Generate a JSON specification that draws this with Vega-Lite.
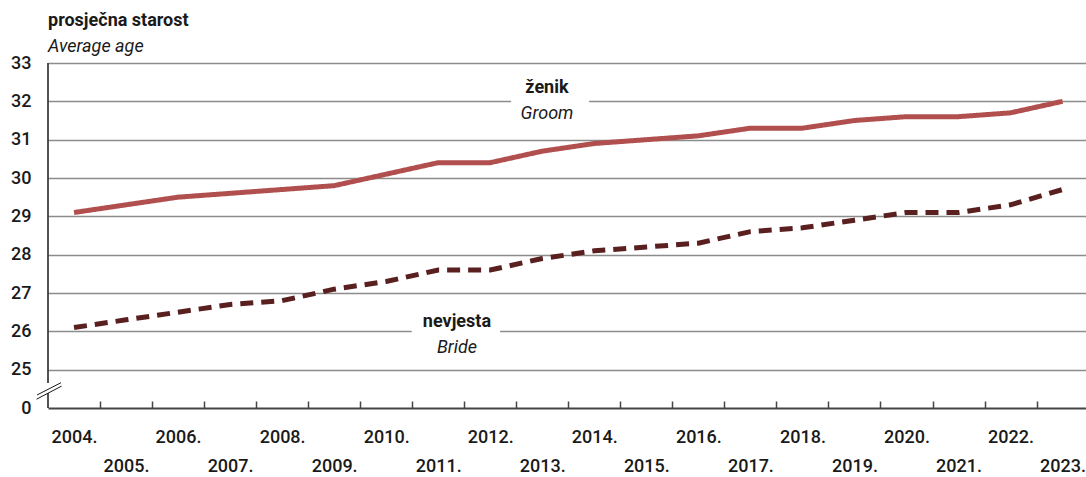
{
  "$schema": "https://vega.github.io/schema/vega-lite/v6.json",
  "width": 1038,
  "height": 345,
  "autosize": "none",
  "padding": {"left": 48, "top": 63, "right": 0, "bottom": 69},
  "background": "white",
  "config": {"view": {"stroke": null}, "font": "Roboto"},
  "title": {
    "text": "prosječna starost",
    "subtitle": "Average age",
    "anchor": "start",
    "frame": "group",
    "offset": -2,
    "font": "Roboto",
    "fontSize": 18,
    "fontWeight": "bold",
    "color": "#1a1a1a",
    "subtitleFont": "Roboto",
    "subtitleFontSize": 18,
    "subtitleFontStyle": "italic",
    "subtitleColor": "#1a1a1a",
    "subtitlePadding": 8
  },
  "data": {
    "values": [
      {"year": 2004, "series": "ženik", "age": 29.1},
      {"year": 2005, "series": "ženik", "age": 29.3},
      {"year": 2006, "series": "ženik", "age": 29.5},
      {"year": 2007, "series": "ženik", "age": 29.6},
      {"year": 2008, "series": "ženik", "age": 29.7},
      {"year": 2009, "series": "ženik", "age": 29.8},
      {"year": 2010, "series": "ženik", "age": 30.1},
      {"year": 2011, "series": "ženik", "age": 30.4},
      {"year": 2012, "series": "ženik", "age": 30.4},
      {"year": 2013, "series": "ženik", "age": 30.7},
      {"year": 2014, "series": "ženik", "age": 30.9},
      {"year": 2015, "series": "ženik", "age": 31.0},
      {"year": 2016, "series": "ženik", "age": 31.1},
      {"year": 2017, "series": "ženik", "age": 31.3},
      {"year": 2018, "series": "ženik", "age": 31.3},
      {"year": 2019, "series": "ženik", "age": 31.5},
      {"year": 2020, "series": "ženik", "age": 31.6},
      {"year": 2021, "series": "ženik", "age": 31.6},
      {"year": 2022, "series": "ženik", "age": 31.7},
      {"year": 2023, "series": "ženik", "age": 32.0},
      {"year": 2004, "series": "nevjesta", "age": 26.1},
      {"year": 2005, "series": "nevjesta", "age": 26.3},
      {"year": 2006, "series": "nevjesta", "age": 26.5},
      {"year": 2007, "series": "nevjesta", "age": 26.7},
      {"year": 2008, "series": "nevjesta", "age": 26.8},
      {"year": 2009, "series": "nevjesta", "age": 27.1},
      {"year": 2010, "series": "nevjesta", "age": 27.3},
      {"year": 2011, "series": "nevjesta", "age": 27.6},
      {"year": 2012, "series": "nevjesta", "age": 27.6},
      {"year": 2013, "series": "nevjesta", "age": 27.9},
      {"year": 2014, "series": "nevjesta", "age": 28.1},
      {"year": 2015, "series": "nevjesta", "age": 28.2},
      {"year": 2016, "series": "nevjesta", "age": 28.3},
      {"year": 2017, "series": "nevjesta", "age": 28.6},
      {"year": 2018, "series": "nevjesta", "age": 28.7},
      {"year": 2019, "series": "nevjesta", "age": 28.9},
      {"year": 2020, "series": "nevjesta", "age": 29.1},
      {"year": 2021, "series": "nevjesta", "age": 29.1},
      {"year": 2022, "series": "nevjesta", "age": 29.3},
      {"year": 2023, "series": "nevjesta", "age": 29.7}
    ]
  },
  "resolve": {"axis": {"x": "independent", "y": "independent"}},
  "layer": [
    {
      "data": {"values": [{}]},
      "mark": {"type": "rect", "color": "white"},
      "encoding": {
        "x": {"datum": 2012.4, "type": "quantitative", "scale": {"domain": [2003.5, 2023.45], "nice": false, "zero": false},
          "axis": {"orient": "bottom", "values": [2005, 2007, 2009, 2011, 2013, 2015, 2017, 2019, 2021, 2023], "labelExpr": "datum.value + '.'", "ticks": false, "grid": false, "domain": false, "labelPadding": 49, "labelFont": "Roboto", "labelFontSize": 18, "labelFontWeight": 500, "labelColor": "#1a1a1a", "labelFlush": false, "labelOverlap": false, "title": null}},
        "x2": {"datum": 2013.9},
        "y": {"datum": 31.85, "type": "quantitative", "scale": {"domain": [24, 33], "nice": false, "zero": false}, "axis": null},
        "y2": {"datum": 32.15}
      }
    },
    {
      "data": {"values": [{}]},
      "mark": {"type": "rect", "color": "white"},
      "encoding": {
        "x": {"datum": 2010.49, "type": "quantitative", "scale": {"domain": [2003.5, 2023.45], "nice": false, "zero": false},
          "axis": {"orient": "bottom", "values": [2004.5, 2005.5, 2006.5, 2007.5, 2008.5, 2009.5, 2010.5, 2011.5, 2012.5, 2013.5, 2014.5, 2015.5, 2016.5, 2017.5, 2018.5, 2019.5, 2020.5, 2021.5, 2022.5], "labels": false, "ticks": true, "tickSize": -7, "tickColor": "#444444", "tickWidth": 1.5, "grid": false, "domain": false, "title": null}},
        "x2": {"datum": 2012.19},
        "y": {"datum": 25.85, "type": "quantitative", "scale": {"domain": [24, 33], "nice": false, "zero": false}, "axis": null},
        "y2": {"datum": 26.15}
      }
    },
    {
      "data": {"values": [{}]},
      "mark": {"type": "rule", "color": "#1a1a1a", "strokeWidth": 1.5},
      "encoding": {
        "x": {"datum": 2003.5, "type": "quantitative", "scale": {"domain": [2003.5, 2023.45], "nice": false, "zero": false}, "axis": null},
        "y": {"datum": 24.65, "type": "quantitative", "scale": {"domain": [24, 33], "nice": false, "zero": false}, "axis": null},
        "y2": {"datum": 33}
      }
    },
    {
      "data": {"values": [{}]},
      "mark": {"type": "rule", "color": "#1a1a1a", "strokeWidth": 1.5},
      "encoding": {
        "x": {"datum": 2003.5, "type": "quantitative", "scale": {"domain": [2003.5, 2023.45], "nice": false, "zero": false}, "axis": null},
        "y": {"datum": 24, "type": "quantitative", "scale": {"domain": [24, 33], "nice": false, "zero": false}, "axis": null},
        "y2": {"datum": 24.39}
      }
    },
    {
      "data": {"values": [{}]},
      "mark": {"type": "rule", "color": "#1a1a1a", "strokeWidth": 1},
      "encoding": {
        "x": {"datum": 2003.29, "type": "quantitative", "scale": {"domain": [2003.5, 2023.45], "nice": false, "zero": false}, "axis": null},
        "x2": {"datum": 2003.75},
        "y": {"datum": 24.34, "type": "quantitative", "scale": {"domain": [24, 33], "nice": false, "zero": false}, "axis": null},
        "y2": {"datum": 24.66}
      }
    },
    {
      "data": {"values": [{}]},
      "mark": {"type": "rule", "color": "#1a1a1a", "strokeWidth": 1},
      "encoding": {
        "x": {"datum": 2003.28, "type": "quantitative", "scale": {"domain": [2003.5, 2023.45], "nice": false, "zero": false}, "axis": null},
        "x2": {"datum": 2003.76},
        "y": {"datum": 24.23, "type": "quantitative", "scale": {"domain": [24, 33], "nice": false, "zero": false}, "axis": null},
        "y2": {"datum": 24.57}
      }
    },
    {
      "mark": {"type": "line", "strokeWidth": 5, "strokeCap": "butt"},
      "encoding": {
        "x": {"field": "year", "type": "quantitative", "scale": {"domain": [2003.5, 2023.45], "nice": false, "zero": false},
          "axis": {"orient": "bottom", "values": [2004, 2006, 2008, 2010, 2012, 2014, 2016, 2018, 2020, 2022], "labelExpr": "datum.value + '.'", "ticks": false, "grid": false, "domain": true, "domainColor": "#444444", "domainWidth": 2, "labelPadding": 20, "labelFont": "Roboto", "labelFontSize": 18, "labelFontWeight": 500, "labelColor": "#1a1a1a", "labelFlush": false, "labelOverlap": false, "title": null}},
        "y": {"field": "age", "type": "quantitative", "scale": {"domain": [24, 33], "nice": false, "zero": false},
          "axis": {"orient": "left", "values": [24, 25, 26, 27, 28, 29, 30, 31, 32, 33], "labelExpr": "datum.value == 24 ? '0' : datum.label", "grid": true, "gridColor": "#8c8c8c", "gridWidth": 1.5, "gridOpacity": {"condition": {"test": "datum.value == 24", "value": 0}, "value": 1}, "ticks": false, "domain": false, "labelPadding": 17, "labelFont": "Roboto", "labelFontSize": 18, "labelFontWeight": 500, "labelColor": "#1a1a1a", "labelOverlap": false, "labelFlush": false, "title": null}},
        "color": {"field": "series", "type": "nominal", "scale": {"domain": ["ženik", "nevjesta"], "range": ["#b04f4d", "#5a1f1f"]}, "legend": null},
        "strokeDash": {"field": "series", "type": "nominal", "scale": {"domain": ["ženik", "nevjesta"], "range": [[1, 0], [13, 8]]}, "legend": null}
      }
    },
    {
      "data": {"values": [{"t": "ženik"}]},
      "mark": {"type": "text", "font": "Roboto", "fontSize": 18, "fontWeight": "bold", "color": "#1a1a1a", "baseline": "alphabetic", "align": "center"},
      "encoding": {
        "text": {"field": "t"},
        "x": {"datum": 2013.09, "type": "quantitative", "scale": {"domain": [2003.5, 2023.45], "nice": false, "zero": false}, "axis": null},
        "y": {"datum": 32.22, "type": "quantitative", "scale": {"domain": [24, 33], "nice": false, "zero": false}, "axis": null}
      }
    },
    {
      "data": {"values": [{"t": "Groom"}]},
      "mark": {"type": "text", "font": "Roboto", "fontSize": 18, "fontStyle": "italic", "color": "#1a1a1a", "baseline": "alphabetic", "align": "center"},
      "encoding": {
        "text": {"field": "t"},
        "x": {"datum": 2013.09, "type": "quantitative", "scale": {"domain": [2003.5, 2023.45], "nice": false, "zero": false}, "axis": null},
        "y": {"datum": 31.53, "type": "quantitative", "scale": {"domain": [24, 33], "nice": false, "zero": false}, "axis": null}
      }
    },
    {
      "data": {"values": [{"t": "nevjesta"}]},
      "mark": {"type": "text", "font": "Roboto", "fontSize": 18, "fontWeight": "bold", "color": "#1a1a1a", "baseline": "alphabetic", "align": "center"},
      "encoding": {
        "text": {"field": "t"},
        "x": {"datum": 2011.36, "type": "quantitative", "scale": {"domain": [2003.5, 2023.45], "nice": false, "zero": false}, "axis": null},
        "y": {"datum": 26.12, "type": "quantitative", "scale": {"domain": [24, 33], "nice": false, "zero": false}, "axis": null}
      }
    },
    {
      "data": {"values": [{"t": "Bride"}]},
      "mark": {"type": "text", "font": "Roboto", "fontSize": 18, "fontStyle": "italic", "color": "#1a1a1a", "baseline": "alphabetic", "align": "center"},
      "encoding": {
        "text": {"field": "t"},
        "x": {"datum": 2011.36, "type": "quantitative", "scale": {"domain": [2003.5, 2023.45], "nice": false, "zero": false}, "axis": null},
        "y": {"datum": 25.43, "type": "quantitative", "scale": {"domain": [24, 33], "nice": false, "zero": false}, "axis": null}
      }
    }
  ]
}
